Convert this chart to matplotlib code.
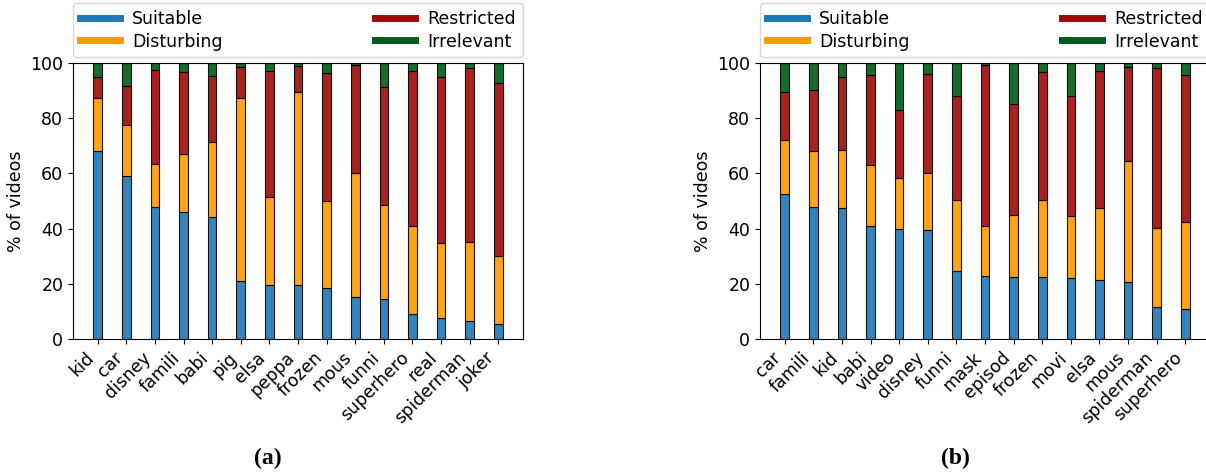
import matplotlib
matplotlib.use("Agg")
import matplotlib.pyplot as plt
from matplotlib.lines import Line2D
import numpy as np

# cumulative shares (% of videos) per stemmed keyword
terms_a = ["kid", "car", "disney", "famili", "babi", "pig", "elsa", "peppa",
           "frozen", "mous", "funni", "superhero", "real", "spiderman", "joker"]
suitable_a = [68.1, 59.0, 47.8, 45.9, 44.1, 21.0, 19.7, 19.6, 18.4, 15.1, 14.4, 9.1, 7.5, 6.5, 5.3]
disturbing_a = [19.3, 18.5, 15.7, 21.1, 27.2, 66.3, 31.7, 69.9, 31.5, 45.2, 34.1, 31.8, 27.2, 28.6, 24.7]
restricted_a = [7.6, 14.2, 34.0, 29.7, 24.1, 11.2, 45.8, 9.5, 46.5, 39.0, 42.7, 56.3, 60.2, 63.1, 62.9]

terms_b = ["car", "famili", "kid", "babi", "video", "disney", "funni", "mask",
           "episod", "frozen", "movi", "elsa", "mous", "spiderman", "superhero"]
suitable_b = [52.4, 47.8, 47.4, 40.9, 39.9, 39.5, 24.7, 22.7, 22.5, 22.5, 22.1, 21.5, 20.8, 11.5, 10.8]
disturbing_b = [19.7, 20.3, 20.9, 22.1, 18.6, 20.6, 25.5, 18.2, 22.6, 27.7, 22.3, 25.9, 43.8, 28.6, 31.5]
restricted_b = [17.4, 22.1, 26.5, 32.6, 24.5, 35.9, 37.8, 58.3, 40.0, 46.7, 43.6, 49.6, 33.9, 58.1, 53.5]

labels = ["Suitable", "Disturbing", "Restricted", "Irrelevant"]
colors = ["#1f77b4", "#ff9900", "#a00a0a", "#005a1a"]

plt.rcParams['font.family'] = ['DejaVu Sans']
fig = plt.figure(figsize=(12.06, 4.72), dpi=100)

W, H = 1206.0, 472.0
FS = 12.5


def draw_panel(left_px, terms, suit, dist, restr, caption, cap_x):
    ax = fig.add_axes([left_px / W, (H - 339) / H, 450 / W, 276 / H])
    suit = np.array(suit)
    dist = np.array(dist)
    restr = np.array(restr)
    irr = 100 - suit - dist - restr
    x = np.arange(len(terms))
    bottom = np.zeros(len(terms))
    for vals, c in zip([suit, dist, restr, irr], colors):
        ax.bar(x, vals, 0.3, bottom=bottom, color=c, alpha=0.9,
               edgecolor='black', linewidth=0.8)
        bottom = bottom + vals
    ax.set_ylim(0, 100)
    ax.set_xticks(x)
    ax.set_xticklabels(terms, rotation=45, ha='right', fontsize=FS)
    ax.tick_params(axis='y', labelsize=FS)
    ax.set_ylabel("% of videos", fontsize=FS)
    handles = [Line2D([0], [0], color=c, lw=5) for c in colors]
    ax.legend(handles, labels,
              ncol=2, mode='expand', loc='lower left',
              bbox_to_anchor=(0, 1.02, 1, 0.2), fontsize=FS,
              handlelength=2.3, handletextpad=0.7,
              borderaxespad=0.0, labelspacing=0.25)
    fig.text(cap_x / W, 1 - 458 / H, caption, ha='center', va='center',
             fontsize=17, fontweight='bold', family='Liberation Serif')


draw_panel(73, terms_a, suitable_a, disturbing_a, restricted_a, "(a)", 268)
draw_panel(760, terms_b, suitable_b, disturbing_b, restricted_b, "(b)", 955)

fig.savefig("out.png", dpi=100)
